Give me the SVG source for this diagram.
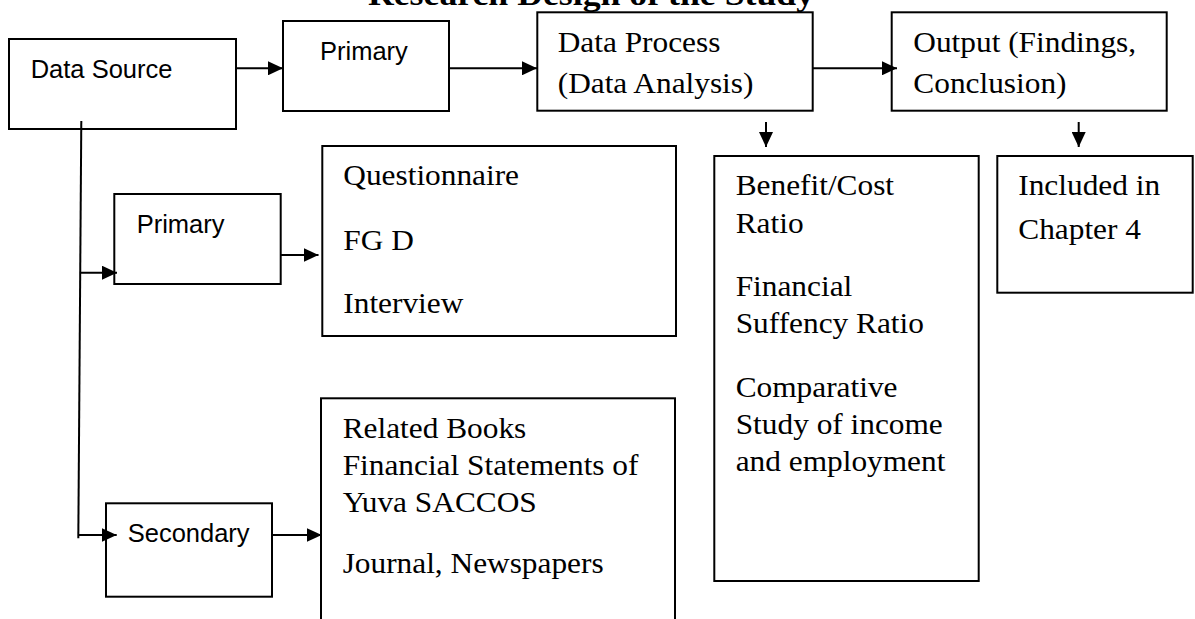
<svg xmlns="http://www.w3.org/2000/svg" width="1195" height="619" viewBox="0 0 1195 619">
<style>
.box{fill:#fff;stroke:#000;stroke-width:2}
.sans{font-family:"Liberation Sans",Arial,sans-serif;font-size:25.5px;fill:#000}
.serif{font-family:"Liberation Serif","Times New Roman",serif;font-size:28.5px;fill:#000}
.title{font-family:"Liberation Serif","Times New Roman",serif;font-size:32.5px;font-weight:bold;fill:#000}
.conn{stroke:#000;stroke-width:2;fill:none}
.arr{marker-end:url(#ah)}
</style>
<defs>
<marker id="ah" markerUnits="userSpaceOnUse" markerWidth="15" markerHeight="14" refX="15" refY="7" orient="auto">
<path d="M0,0 L15,7 L0,14 z" fill="#000"/>
</marker>
</defs>
<rect width="1195" height="619" fill="#fff"/>
<g id="title" transform="scale(1.1 1)">
<text class="title" x="334.5" y="5">Research Design of the Study</text>
</g>
<g id="data-source">
<rect class="box" x="9" y="39" width="227" height="90"/>
<text class="sans" x="30.7" y="77.7">Data Source</text>
</g>
<g id="primary-top">
<rect class="box" x="283" y="21" width="166" height="90"/>
<text class="sans" x="320" y="60">Primary</text>
</g>
<g id="data-process">
<rect class="box" x="537.3" y="12.3" width="275.4" height="98.4"/>
<g transform="scale(1.1 1)">
<text class="serif" x="507" y="51.7">Data Process</text>
<text class="serif" x="507" y="93.3">(Data Analysis)</text>
</g>
</g>
<g id="output">
<rect class="box" x="891.7" y="12.3" width="275" height="98.4"/>
<g transform="scale(1.1 1)">
<text class="serif" x="830.3" y="51.7">Output (Findings,</text>
<text class="serif" x="830.3" y="93.3">Conclusion)</text>
</g>
</g>
<g id="primary-mid">
<rect class="box" x="114.3" y="194" width="166.4" height="90"/>
<text class="sans" x="136.7" y="233.3">Primary</text>
</g>
<g id="primary-methods">
<rect class="box" x="322.3" y="146" width="353.7" height="190"/>
<g transform="scale(1.1 1)">
<text class="serif" x="312.1" y="185">Questionnaire</text>
<text class="serif" x="312.1" y="250">FG D</text>
<text class="serif" x="312.1" y="312.7">Interview</text>
</g>
</g>
<g id="analysis">
<rect class="box" x="714.3" y="156" width="264.4" height="425"/>
<g transform="scale(1.1 1)">
<text class="serif" x="668.8" y="195">Benefit/Cost</text>
<text class="serif" x="668.8" y="232.7">Ratio</text>
<text class="serif" x="668.8" y="296">Financial</text>
<text class="serif" x="668.8" y="332.7">Suffency Ratio</text>
<text class="serif" x="668.8" y="396.7">Comparative</text>
<text class="serif" x="668.8" y="434">Study of income</text>
<text class="serif" x="668.8" y="471">and employment</text>
</g>
</g>
<g id="included">
<rect class="box" x="997.3" y="156" width="195.4" height="136.7"/>
<g transform="scale(1.1 1)">
<text class="serif" x="925.7" y="195">Included in</text>
<text class="serif" x="925.7" y="239.3">Chapter 4</text>
</g>
</g>
<g id="secondary">
<rect class="box" x="106" y="503.3" width="166" height="93.4"/>
<text class="sans" x="127.7" y="541.7">Secondary</text>
</g>
<g id="secondary-sources">
<rect class="box" x="321" y="398.3" width="354" height="240"/>
<g transform="scale(1.1 1)">
<text class="serif" x="311.5" y="437.7">Related Books</text>
<text class="serif" x="311.5" y="475">Financial Statements of</text>
<text class="serif" x="311.5" y="511.7">Yuva SACCOS</text>
<text class="serif" x="311.5" y="573.3">Journal, Newspapers</text>
</g>
</g>
<g id="connectors">
<line class="conn arr" x1="236" y1="68.3" x2="283" y2="68.3"/>
<line class="conn arr" x1="449" y1="68.3" x2="537" y2="68.3"/>
<line class="conn arr" x1="812.7" y1="68.3" x2="897" y2="68.3"/>
<line class="conn arr" x1="766" y1="122" x2="766" y2="147"/>
<line class="conn arr" x1="1078.7" y1="122" x2="1078.7" y2="147"/>
<line class="conn" x1="81.3" y1="121" x2="78.3" y2="538.3"/>
<line class="conn arr" x1="80.7" y1="272.7" x2="117" y2="272.7"/>
<line class="conn arr" x1="280.7" y1="255" x2="318.5" y2="255"/>
<line class="conn arr" x1="78.3" y1="535" x2="116.7" y2="535"/>
<line class="conn arr" x1="272" y1="535" x2="321.7" y2="535"/>
</g>
</svg>
